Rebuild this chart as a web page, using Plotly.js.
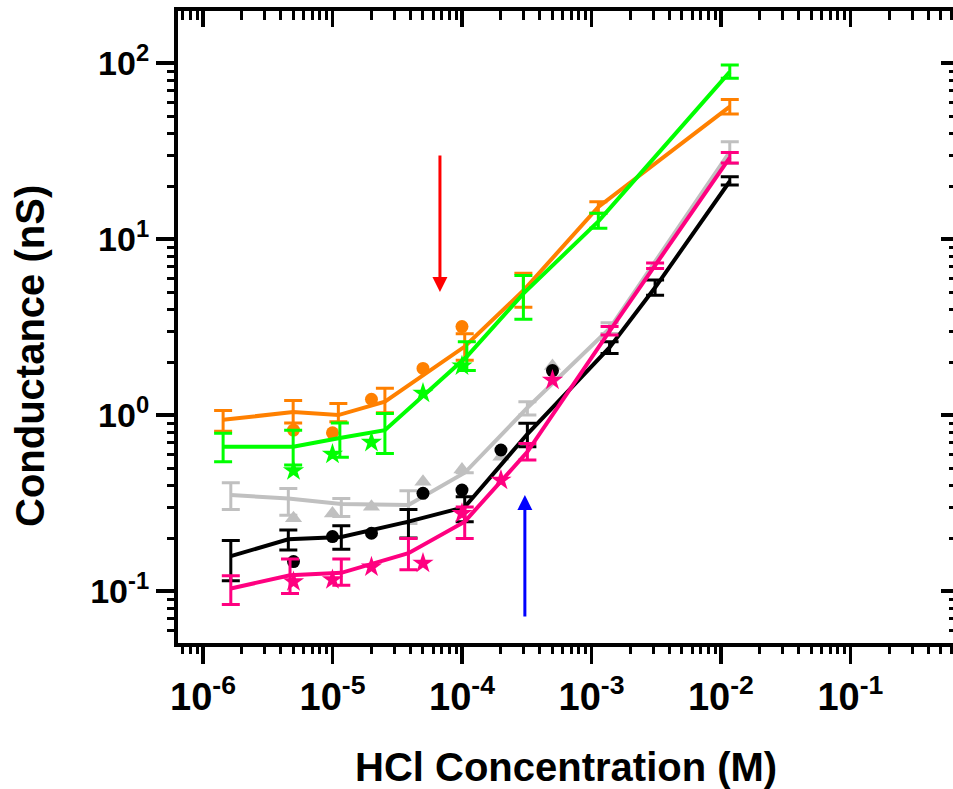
<!DOCTYPE html>
<html>
<head>
<meta charset="utf-8">
<script src="https://cdn.plot.ly/plotly-3.0.1.min.js"></script>
<style>html,body{margin:0;padding:0;background:#fff;}#chart{width:953px;height:789px;}</style>
</head>
<body>
<div id="chart"></div>
<script>
// ---- Data (HCl concentration in M, conductance in nS) ----
const orangeLineX = [1.43e-6, 4.97e-6, 1.11e-5, 2.54e-5, 1.05e-4, 2.98e-4, 1.13e-3, 1.17e-2];
const orangeLineY = [0.94, 1.04, 1.00, 1.19, 2.45, 5.1, 15.2, 56.5];
const orangeHi    = [1.06, 1.21, 1.165, 1.42, 2.9, 6.4, 16.3, 62];
const orangeLo    = [0.81, 0.90, 0.915, 1.03, 2.05, 4.1, 14.0, 51.3];
const orangePtsX  = [5e-6, 1e-5, 2e-5, 5e-5, 1e-4];
const orangePtsY  = [0.822, 0.793, 1.23, 1.84, 3.18];

const greenLineX = [1.43e-6, 4.97e-6, 1.14e-5, 2.54e-5, 1.09e-4, 2.98e-4, 1.13e-3, 1.17e-2];
const greenLineY = [0.66, 0.66, 0.74, 0.82, 2.15, 4.9, 12.6, 89];
const greenHi    = [0.787, 0.82, 0.90, 1.02, 2.61, 6.2, 14.0, 97.5];
const greenLo    = [0.543, 0.52, 0.575, 0.605, 1.79, 3.5, 11.5, 81.9];
const greenPtsX  = [5e-6, 1e-5, 2e-5, 5e-5, 1e-4];
const greenPtsY  = [0.483, 0.60, 0.70, 1.33, 1.9];

const greyLineX = [1.64e-6, 4.56e-6, 1.17e-5, 3.86e-5, 1.05e-4, 3.2e-4, 1.38e-3, 1.17e-2];
const greyLineY = [0.351, 0.336, 0.312, 0.308, 0.47, 1.1, 3.1, 31.3];
const greyHi    = [0.413, 0.383, 0.336, 0.371, null, 1.19, 3.35, 35.7];
const greyLo    = [0.291, 0.27, 0.265, 0.242, null, 1.0, 2.91, 26.9];
const greyPtsX  = [5e-6, 1e-5, 2e-5, 5e-5, 1e-4, 2e-4, 5e-4];
const greyPtsY  = [0.259, 0.276, 0.301, 0.418, 0.49, 0.58, 1.9];

const blackLineX = [1.64e-6, 4.56e-6, 1.17e-5, 3.86e-5, 1.05e-4, 3.2e-4, 1.38e-3, 3.1e-3, 1.17e-2];
const blackLineY = [0.158, 0.197, 0.203, 0.248, 0.30, 0.78, 2.42, 5.3, 21.3];
const blackHi    = [0.194, 0.222, 0.235, 0.291, 0.343, 0.897, 2.61, 5.85, 22.6];
const blackLo    = [0.1145, 0.171, 0.173, 0.20, 0.248, 0.66, 2.24, 4.8, 20.3];
const blackPtsX  = [5e-6, 1e-5, 2e-5, 5e-5, 1e-4, 2e-4, 5e-4];
const blackPtsY  = [0.147, 0.204, 0.213, 0.359, 0.375, 0.633, 1.79];

const pinkLineX = [1.64e-6, 4.7e-6, 1.17e-5, 3.86e-5, 1.05e-4, 3.2e-4, 1.38e-3, 3.1e-3, 1.17e-2];
const pinkLineY = [0.1035, 0.123, 0.127, 0.164, 0.248, 0.618, 3.0, 7.05, 29];
const pinkHi    = [0.122, 0.152, 0.152, 0.199, 0.30, 0.69, 3.18, 7.3, 31];
const pinkLo    = [0.084, 0.097, 0.108, 0.132, 0.199, 0.555, 2.85, 6.8, 27];
const pinkPtsX  = [5e-6, 1e-5, 2e-5, 5e-5, 1e-4, 2e-4, 5e-4];
const pinkPtsY  = [0.113, 0.116, 0.137, 0.144, 0.276, 0.427, 1.58];

// Tick labels
const xTickVals = [1e-6, 1e-5, 1e-4, 1e-3, 1e-2, 1e-1];
const xTickText = ['10<sup>-6</sup>', '10<sup>-5</sup>', '10<sup>-4</sup>', '10<sup>-3</sup>', '10<sup>-2</sup>', '10<sup>-1</sup>'];
const yTickVals = [0.1, 1, 10, 100];
const yTickText = ['10<sup>-1</sup>', '10<sup>0</sup>', '10<sup>1</sup>', '10<sup>2</sup>'];
const xDecades  = [-7, -6, -5, -4, -3, -2, -1];
const yDecades  = [-2, -1, 0, 1, 2];

// minor tick positions (2..9 in each decade)
function minorList(decades) {
  const out = [];
  decades.forEach(d => { for (let k = 2; k <= 9; k++) out.push(k * Math.pow(10, d)); });
  return out;
}
const xMinorVals = minorList(xDecades);
const yMinorVals = minorList(yDecades);

// ---- helpers ----
function errPlus(y, hi) { return y.map((v, i) => hi[i] == null ? null : hi[i] - v); }
function errMinus(y, lo) { return y.map((v, i) => lo[i] == null ? null : v - lo[i]); }

function lineTrace(x, y, hi, lo, color) {
  return {
    x: x, y: y, type: 'scatter', mode: 'lines',
    line: {color: color, width: 4},
    error_y: {type: 'data', symmetric: false, array: errPlus(y, hi), arrayminus: errMinus(y, lo),
              color: color, thickness: 3, width: 9},
    showlegend: false, hoverinfo: 'skip'
  };
}
function ptsTrace(x, y, color, symbol, size) {
  return {
    x: x, y: y, type: 'scatter', mode: 'markers',
    marker: {color: color, symbol: symbol, size: size, line: {width: 0}},
    showlegend: false, hoverinfo: 'skip'
  };
}
function emptyTrace(xa, ya) {
  return {x: [], y: [], xaxis: xa, yaxis: ya, type: 'scatter', mode: 'markers', showlegend: false, hoverinfo: 'skip'};
}

const ORANGE = '#FF8000', GREEN = '#00FF00', GREY = '#C0C0C0', BLACK = '#000000', PINK = '#FF0080';

const traces = [
  lineTrace(orangeLineX, orangeLineY, orangeHi, orangeLo, ORANGE),
  ptsTrace(orangePtsX, orangePtsY, ORANGE, 'circle', 13),
  lineTrace(greenLineX, greenLineY, greenHi, greenLo, GREEN),
  ptsTrace(greenPtsX, greenPtsY, GREEN, 'star', 16),
  lineTrace(greyLineX, greyLineY, greyHi, greyLo, GREY),
  ptsTrace(greyPtsX, greyPtsY, GREY, 'triangle-up', 15),
  lineTrace(blackLineX, blackLineY, blackHi, blackLo, BLACK),
  ptsTrace(blackPtsX, blackPtsY, BLACK, 'circle', 13),
  lineTrace(pinkLineX, pinkLineY, pinkHi, pinkLo, PINK),
  ptsTrace(pinkPtsX, pinkPtsY, PINK, 'star', 16),
  emptyTrace('x2', 'y2'),
  emptyTrace('x3', 'y3'),
  emptyTrace('x4', 'y4')
];

const FONT = 'Liberation Sans, Arial, sans-serif';
const xRange = [-6.193, -0.208];
const yRange = [-1.295, 2.2955];
const NOGRID = 'rgba(0,0,0,0)';

function tickAxis(range, extra) {
  return Object.assign({
    type: 'log', range: range, showgrid: false, gridcolor: NOGRID, zeroline: false, showline: false,
    showticklabels: false, tickcolor: '#000', automargin: false, tickmode: 'array'
  }, extra);
}

const layout = {
  width: 953, height: 789,
  margin: {l: 178, r: 0, t: 11, b: 146, pad: 0},
  paper_bgcolor: '#ffffff', plot_bgcolor: '#ffffff',
  showlegend: false,
  font: {family: FONT, color: '#000'},
  xaxis: {
    type: 'log', range: xRange, showgrid: false, gridcolor: NOGRID, zeroline: false,
    showline: true, linewidth: 4, linecolor: '#000', mirror: true,
    ticks: 'outside', ticklen: 17, tickwidth: 3.5, tickcolor: '#000',
    tickmode: 'array', tickvals: xTickVals, ticktext: xTickText,
    tickfont: {family: FONT, size: 38, weight: 700, color: '#000'},
    automargin: false
  },
  yaxis: {
    type: 'log', range: yRange, showgrid: false, gridcolor: NOGRID, zeroline: false,
    showline: true, linewidth: 4, linecolor: '#000', mirror: false,
    ticks: 'outside', ticklen: 18, tickwidth: 3.5, tickcolor: '#000',
    tickmode: 'array', tickvals: yTickVals, ticktext: yTickText,
    tickfont: {family: FONT, size: 34, weight: 700, color: '#000'},
    automargin: false
  },
  // top axis: major ticks inside
  xaxis2: tickAxis(xRange, {overlaying: 'x', side: 'top', anchor: 'y',
    ticks: 'inside', ticklen: 16, tickwidth: 3.5, tickvals: xTickVals}),
  // bottom minor ticks outside
  xaxis3: tickAxis(xRange, {overlaying: 'x', side: 'bottom', anchor: 'y',
    ticks: 'outside', ticklen: 10, tickwidth: 3, tickvals: xMinorVals}),
  // top minor ticks inside
  xaxis4: tickAxis(xRange, {overlaying: 'x', side: 'top', anchor: 'y',
    ticks: 'inside', ticklen: 9, tickwidth: 3, tickvals: xMinorVals}),
  // right major ticks inside
  yaxis2: tickAxis(yRange, {overlaying: 'y', side: 'right', anchor: 'x',
    ticks: 'inside', ticklen: 12, tickwidth: 3.5, tickvals: yTickVals}),
  // left minor ticks outside
  yaxis3: tickAxis(yRange, {overlaying: 'y', side: 'left', anchor: 'x',
    ticks: 'outside', ticklen: 10, tickwidth: 3, tickvals: yMinorVals}),
  // right minor ticks inside
  yaxis4: tickAxis(yRange, {overlaying: 'y', side: 'right', anchor: 'x',
    ticks: 'inside', ticklen: 4, tickwidth: 3, tickvals: yMinorVals}),
  annotations: [
    {xref: 'paper', yref: 'paper', x: 0.5, y: (643 - 767) / 632, xanchor: 'center', yanchor: 'middle',
     text: 'HCl Concentration (M)', showarrow: false,
     font: {family: FONT, size: 40, weight: 700, color: '#000'}},
    {xref: 'paper', yref: 'paper', x: 0, y: (643 - 356) / 632, xanchor: 'center', yanchor: 'middle',
     xshift: -148, textangle: -90,
     text: 'Conductance (nS)', showarrow: false,
     font: {family: FONT, size: 40, weight: 700, color: '#000'}},
    {xref: 'x', yref: 'y', x: Math.log10(6.76e-5), y: Math.log10(5.0), text: '',
     showarrow: true, arrowhead: 2, arrowsize: 1, arrowwidth: 3, arrowcolor: '#FF0000',
     ax: 0, ay: -138, standoff: 0},
    {xref: 'x', yref: 'y', x: Math.log10(3.06e-4), y: Math.log10(0.351), text: '',
     showarrow: true, arrowhead: 2, arrowsize: 1, arrowwidth: 3, arrowcolor: '#0000FF',
     ax: 0, ay: 123, standoff: 0}
  ]
};

Plotly.newPlot('chart', traces, layout, {staticPlot: true, displayModeBar: false});
</script>
</body>
</html>
